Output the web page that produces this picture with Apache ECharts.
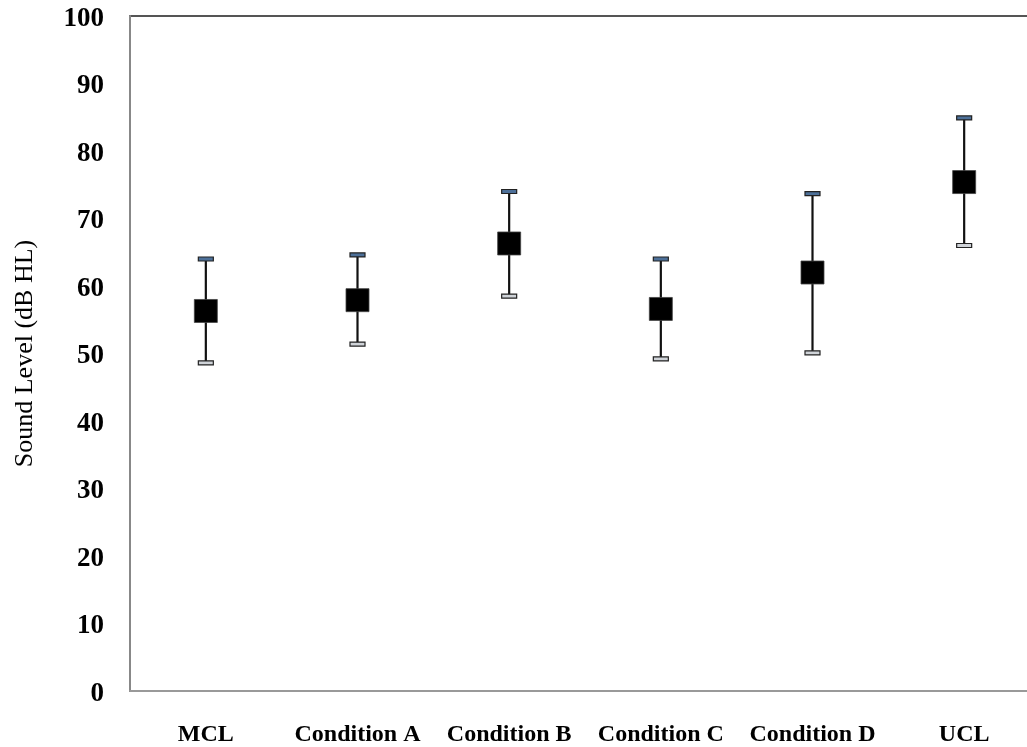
<!DOCTYPE html>
<html><head><meta charset="utf-8">
<script src="https://cdn.jsdelivr.net/npm/echarts@6/dist/echarts.min.js"></script>
<style>html,body{margin:0;padding:0;background:#fff}#c{width:1027px;height:747px}</style>
</head><body><div id="c"></div>
<script>
const categories = ['MCL','Condition A','Condition B','Condition C','Condition D','UCL'];
const means = [56.3, 57.9, 66.3, 56.6, 62.0, 75.4];
const upper = [64.0, 64.6, 74.0, 64.0, 73.7, 84.9];
const lower = [48.6, 51.4, 58.5, 49.2, 50.1, 66.0];
const yTicks = [0,10,20,30,40,50,60,70,80,90,100];

const errData = categories.map((c,i)=>[i, lower[i], upper[i]]);
const serif = '"Liberation Serif", "DejaVu Serif", serif';
const chart = echarts.init(document.getElementById('c'));
chart.setOption({
  animation:false,
  grid:{left:130, top:16, width:910, height:675, outerBoundsMode:'none', containLabel:false,
    show:true, borderColor:'#555', borderWidth:2, backgroundColor:'transparent'},
  xAxis:{type:'category', data:categories, boundaryGap:true,
    axisLine:{lineStyle:{color:'#999', width:2}}, axisTick:{show:false},
    axisLabel:{color:'#000', fontFamily:serif, fontWeight:'bold', fontSize:24, margin:32, interval:0}},
  yAxis:{type:'value', min:0, max:100, interval:10,
    name:'Sound Level (dB HL)', nameLocation:'middle', nameGap:92, nameRotate:90,
    nameTextStyle:{color:'#000', fontFamily:serif, fontSize:26},
    axisLine:{show:true, lineStyle:{color:'#888', width:2}}, axisTick:{show:false}, splitLine:{show:false},
    axisLabel:{color:'#000', fontFamily:serif, fontWeight:'bold', fontSize:27, margin:26,
      formatter:v=>yTicks.includes(v)?'{a|'+v+'}':'',
      rich:{a:{fontFamily:serif, fontWeight:'bold', fontSize:27, color:'#000', padding:[6,0,0,0]}}}},
  series:[
    {type:'custom', data:errData, z:2,
      renderItem:(params, api)=>{
        const x = api.value(0);
        const lo = api.coord([x, api.value(1)]);
        const hi = api.coord([x, api.value(2)]);
        const cw = 15, ch = 4;
        return {type:'group', children:[
          {type:'line', shape:{x1:lo[0], y1:lo[1], x2:hi[0], y2:hi[1]}, style:{stroke:'#111', lineWidth:2.2}},
          {type:'rect', shape:{x:hi[0]-cw/2, y:hi[1]-ch/2, width:cw, height:ch}, style:{fill:'#4d7099', stroke:'#222', lineWidth:1.2}},
          {type:'rect', shape:{x:lo[0]-cw/2, y:lo[1]-ch/2, width:cw, height:ch}, style:{fill:'#cfd3d8', stroke:'#222', lineWidth:1.2}}
        ]};
      }},
    {type:'scatter', data:means, symbol:'rect', symbolSize:23, z:3,
      itemStyle:{color:'#000', opacity:1, borderColor:'#444', borderWidth:0.8}}
  ]
});
</script></body></html>
